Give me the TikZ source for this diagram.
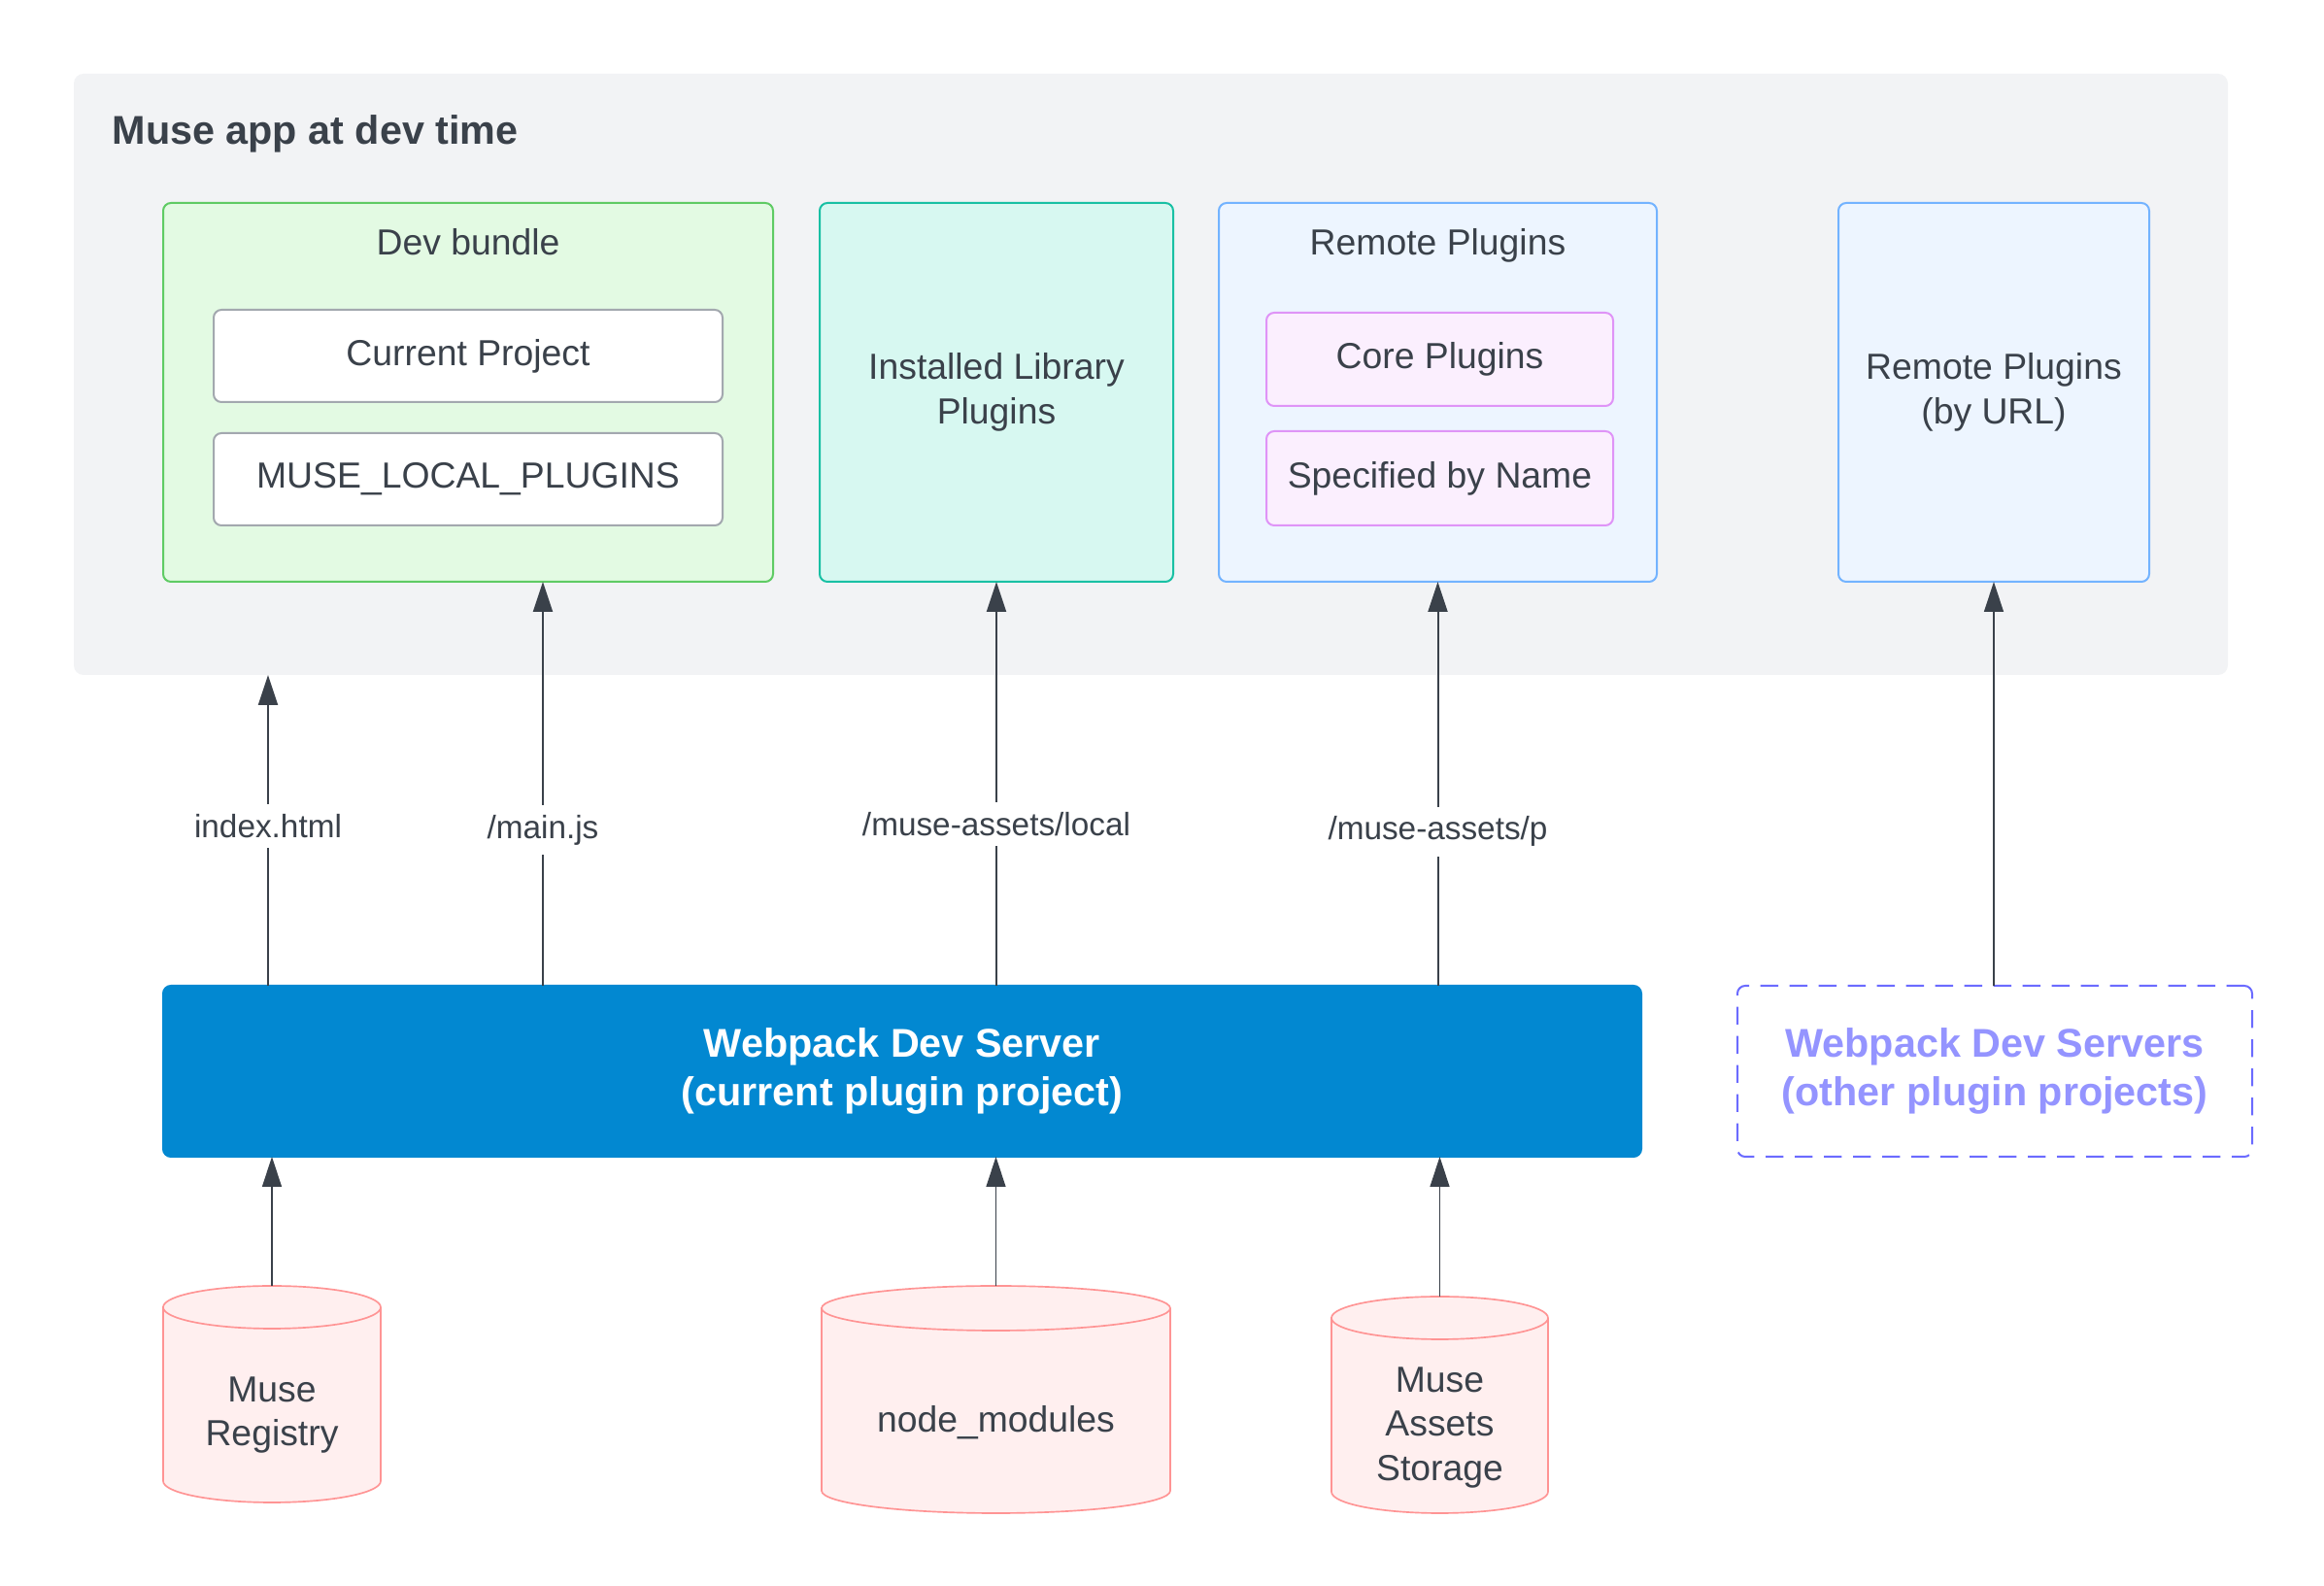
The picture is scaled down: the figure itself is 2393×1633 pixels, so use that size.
\documentclass[tikz,border=0pt]{standalone}
\usepackage{fontspec}
\setmainfont{Liberation Sans}
\usetikzlibrary{arrows.meta}
\definecolor{txt}{HTML}{3A414A}
\definecolor{grpfill}{HTML}{F2F3F5}
\definecolor{devfill}{HTML}{E3FAE3}
\definecolor{devline}{HTML}{5FCB64}
\definecolor{innerline}{HTML}{A3A8AF}
\definecolor{instfill}{HTML}{D7F8F1}
\definecolor{instline}{HTML}{19C0A4}
\definecolor{remfill}{HTML}{EDF5FF}
\definecolor{remline}{HTML}{73B3FF}
\definecolor{corefill}{HTML}{FBEFFE}
\definecolor{coreline}{HTML}{DF94F7}
\definecolor{wpfill}{HTML}{0288D1}
\definecolor{othline}{HTML}{6B6BFF}
\definecolor{othtxt}{HTML}{9494FF}
\definecolor{cylfill}{HTML}{FFEFEF}
\definecolor{cylline}{HTML}{FF9494}
\definecolor{arrcol}{HTML}{3A414A}
\newcommand\drawcyl[6]{%
  \path[fill=cylfill, draw=cylline, line width=0.5pt] (#1,#3) -- (#1,#4)
    arc[start angle=180,end angle=360,x radius=#5,y radius=#6] -- (#2,#3)
    arc[start angle=0,end angle=180,x radius=#5,y radius=#6] -- cycle;
  \draw[cylline, line width=0.5pt] (#1,#3) arc[start angle=180,end angle=360,x radius=#5,y radius=#6];}
\begin{document}
\begin{tikzpicture}[x=0.3pt,y=-0.3pt,
  box/.style={draw, line width=0.6pt, rounded corners=2.4pt, inner sep=0pt, outer sep=0pt,
    align=center, text=txt, font=\fontsize{11.2}{13.7}\selectfont},
  plain/.style={inner sep=0pt, align=center, text=txt, font=\fontsize{11.2}{13.7}\selectfont},
  arr/.style={draw=arrcol, line width=0.6pt, -{Triangle[length=9.3pt,width=6pt]}},
  arrthin/.style={draw=arrcol, line width=0.4pt, -{Triangle[length=9.3pt,width=6pt]}},
  lbl/.style={fill=white, inner xsep=1pt, inner ysep=3pt, text=txt, font=\fontsize{10}{12}\selectfont}]
\useasboundingbox (0,0) rectangle (2393,1633);
\fill[white] (0,0) rectangle (2393,1633);

% group
\node[fill=grpfill, rounded corners=3pt, inner sep=0pt, outer sep=0pt,
  minimum width=665.4pt, minimum height=185.7pt] (app) at (1185,385.5) {};
\node[anchor=west, inner sep=0pt, text=txt, font=\fontsize{12.4}{15}\selectfont\bfseries] (title) at (115,138) {Muse app at dev time};

% dev bundle
\node[box, draw=devline, fill=devfill, minimum width=188.4pt, minimum height=117pt] (dev) at (482,404) {};
\node[plain, anchor=base] (devlbl) at (482,263) {Dev bundle};
\node[box, draw=innerline, fill=white, minimum width=157.2pt, minimum height=28.5pt] (curproj) at (482,366.5) {Current Project};
\node[box, draw=innerline, fill=white, minimum width=157.2pt, minimum height=28.5pt] (localpl) at (482,493.5) {MUSE\_LOCAL\_PLUGINS};

% installed
\node[box, draw=instline, fill=instfill, minimum width=109.2pt, minimum height=117pt] (installed) at (1026,404) {Installed Library\\Plugins};

% remote
\node[box, draw=remline, fill=remfill, minimum width=135.3pt, minimum height=117pt] (remote) at (1480.5,404) {};
\node[plain, anchor=base] (remlbl) at (1480.5,263) {Remote Plugins};
\node[box, draw=coreline, fill=corefill, minimum width=107.1pt, minimum height=28.8pt] (core) at (1482.5,370) {Core Plugins};
\node[box, draw=coreline, fill=corefill, minimum width=107.1pt, minimum height=29.1pt] (spec) at (1482.5,492.5) {Specified by Name};

% by URL
\node[box, draw=remline, fill=remfill, minimum width=96pt, minimum height=117pt] (byurl) at (2053,404) {Remote Plugins\\(by URL)};

% webpack dev server
\node[box, draw=wpfill, fill=wpfill, text=white, minimum width=456.6pt, minimum height=52.8pt,
  font=\fontsize{12.4}{15}\selectfont\bfseries] (webpack) at (929,1103) {Webpack Dev Server\\(current plugin project)};
\node[box, draw=othline, fill=white, dash pattern=on 5.5pt off 3.5pt, text=othtxt, minimum width=159pt, minimum height=52.8pt,
  font=\fontsize{12.4}{15}\selectfont\bfseries] (others) at (2054,1103) {Webpack Dev Servers\\(other plugin projects)};

% cylinders
\drawcyl{168}{392}{1346}{1525}{33.6pt}{6.6pt}
\drawcyl{846}{1205}{1347}{1535}{53.85pt}{6.9pt}
\drawcyl{1371}{1594}{1357}{1536}{33.45pt}{6.6pt}
\node[plain] (registry) at (280,1457) {Muse\\Registry};
\node[plain] (nodemod) at (1025.5,1465) {node\_modules};
\node[plain] (assets) at (1482.5,1470) {Muse\\Assets\\Storage};
\coordinate (regtop) at (280,1324);
\coordinate (nmtop) at (1025.5,1324);
\coordinate (astop) at (1482.5,1335);

% upper connectors
\coordinate (xidx) at (276,0);
\coordinate (xmain) at (559,0);
\draw[arr] (webpack.north -| xidx) -- node[lbl, pos=0.514] {index.html} (app.south -| xidx);
\draw[arr] (webpack.north -| xmain) -- node[lbl, pos=0.385] {/main.js} (dev.south -| xmain);
\draw[arr] (webpack.north -| installed.south) -- node[lbl, pos=0.40] {/muse-assets/local} (installed.south);
\draw[arr] (webpack.north -| remote.south) -- node[lbl, pos=0.382] {/muse-assets/p} (remote.south);
\draw[arrthin] (others.north -| byurl.south) -- (byurl.south);

% lower connectors
\draw[arrthin] (regtop) -- (webpack.south -| regtop);
\draw[arrthin] (nmtop) -- (webpack.south -| nmtop);
\draw[arrthin] (astop) -- (webpack.south -| astop);
\end{tikzpicture}
\end{document}
